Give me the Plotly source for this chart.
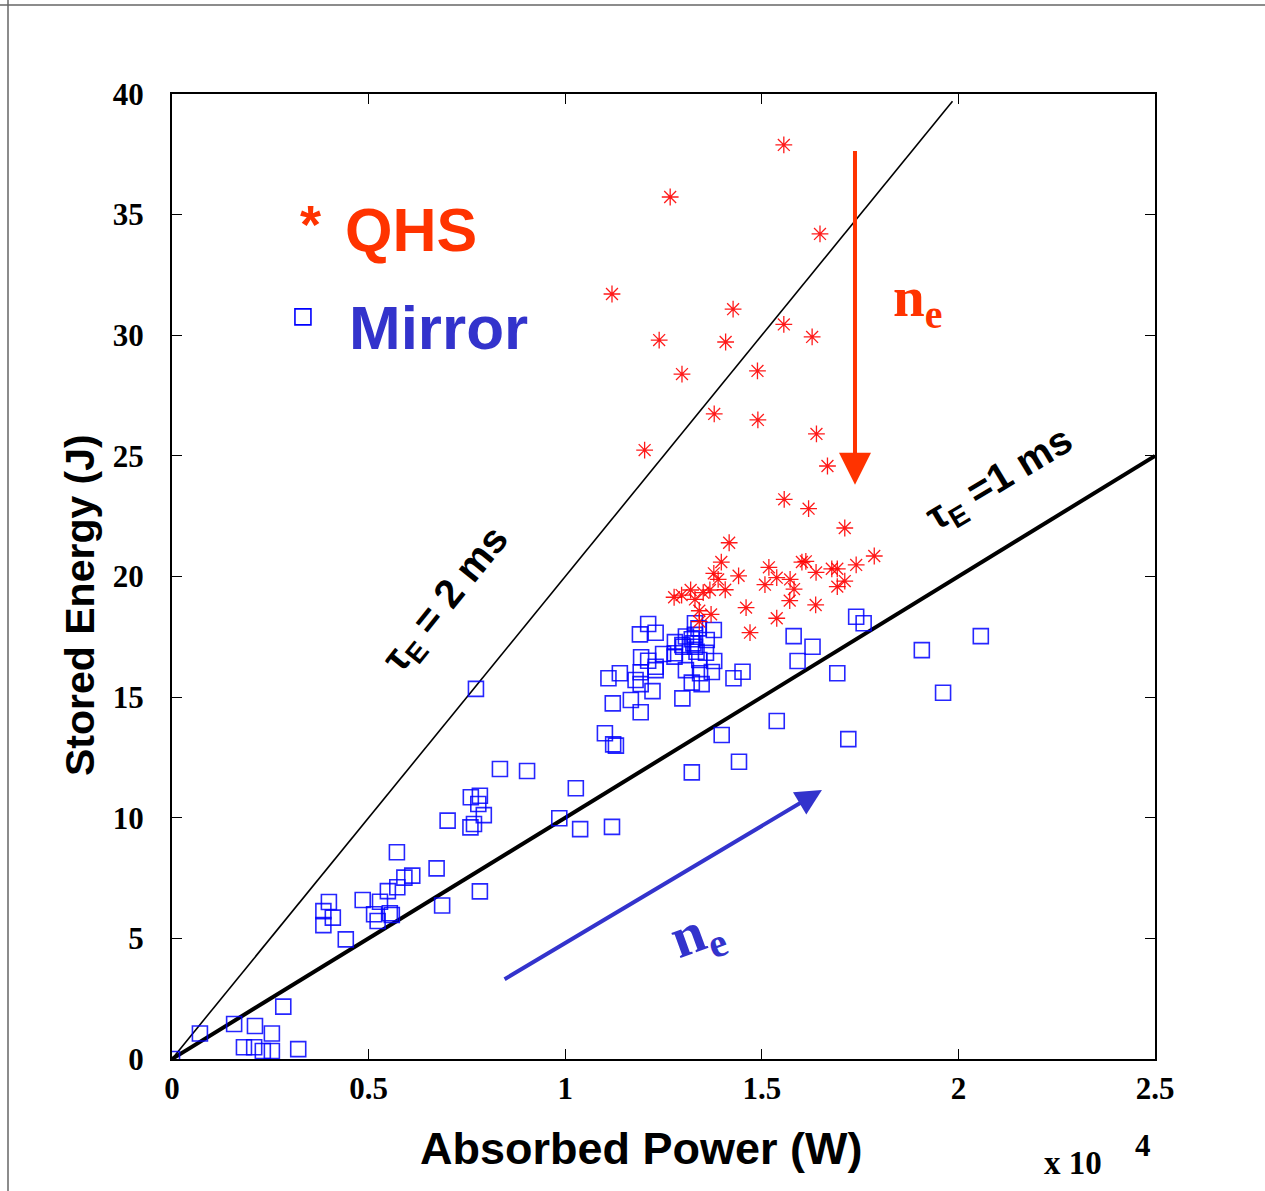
import plotly.graph_objects as go

# ---------------- data (power in units of 1e4 W, energy in J) ----------------
qhs_power = [1.556, 1.267, 1.648, 1.119, 1.427, 1.239, 1.556, 1.628, 1.408, 1.297,
             1.489, 1.379, 1.490, 1.639, 1.202, 1.667, 1.557, 1.619, 1.711, 1.417,
             1.786, 1.397, 1.602, 1.612, 1.740, 1.518, 1.678, 1.692, 1.378, 1.441,
             1.638, 1.389, 1.538, 1.572, 1.711, 1.508, 1.692, 1.582, 1.407, 1.368,
             1.351, 1.319, 1.330, 1.296, 1.277, 1.571, 1.637, 1.460, 1.341, 1.371,
             1.538, 1.341, 1.470]
qhs_energy = [37.89, 35.73, 34.20, 31.71, 31.08, 29.80, 30.45, 29.93, 29.72, 28.39,
              28.52, 26.74, 26.49, 25.91, 25.24, 24.58, 23.20, 22.81, 22.01, 21.40,
              20.85, 20.60, 20.60, 20.63, 20.48, 20.38, 20.32, 20.32, 20.13, 20.03,
              20.17, 19.88, 19.95, 19.88, 19.81, 19.66, 19.58, 19.48, 19.45, 19.44,
              19.33, 19.44, 19.05, 19.23, 19.14, 19.00, 18.82, 18.71, 18.58, 18.43,
              18.27, 18.13, 17.67]

mirror_power = [0.000, 0.071, 0.158, 0.211, 0.254, 0.283, 0.183, 0.209, 0.231, 0.254,
                0.321, 0.442, 0.385, 0.385, 0.409, 0.399, 0.485, 0.514, 0.523, 0.529,
                0.549, 0.554, 0.559, 0.573, 0.591, 0.611, 0.572, 0.673, 0.687, 0.701,
                0.760, 0.783, 0.779, 0.793, 0.768, 0.759, 0.783, 0.985, 0.834, 0.903,
                0.773, 1.027, 1.038, 1.119, 1.101, 1.122, 1.129, 1.121, 1.110, 1.139,
                1.167, 1.192, 1.179, 1.192, 1.192, 1.193, 1.190, 1.211, 1.230, 1.211,
                1.230, 1.222, 1.230, 1.249, 1.279, 1.278, 1.298, 1.298, 1.307, 1.322,
                1.322, 1.322, 1.330, 1.330, 1.330, 1.334, 1.341, 1.347, 1.360, 1.358,
                1.373, 1.379, 1.378, 1.339, 1.307, 1.326, 1.279, 1.300, 1.343, 1.398,
                1.428, 1.442, 1.451, 1.740, 1.759, 1.581, 1.629, 1.591, 1.692, 2.057,
                1.907, 1.961, 1.538, 1.720]
mirror_energy = [0.00, 1.06, 1.45, 1.37, 1.06, 2.17, 0.49, 0.49, 0.33, 0.33,
                 0.41, 4.96, 5.55, 6.13, 5.86, 6.51, 6.59, 6.00, 5.72, 6.52,
                 6.96, 6.04, 5.97, 7.12, 7.52, 7.60, 8.57, 7.90, 6.36, 9.88,
                 10.85, 10.91, 10.57, 10.11, 9.74, 9.60, 6.95, 9.98, 12.02, 11.94,
                 15.34, 11.22, 9.53, 9.62, 13.50, 13.04, 12.99, 14.74, 15.78, 15.99,
                 14.88, 14.37, 15.71, 15.54, 16.03, 16.65, 17.60, 18.03, 17.67, 16.51,
                 16.26, 15.25, 16.12, 16.79, 17.28, 16.68, 17.16, 14.95, 16.12, 15.60,
                 11.88, 17.40, 18.06, 17.58, 17.09, 16.88, 16.54, 15.54, 17.37, 16.84,
                 16.04, 16.50, 17.78, 17.85, 17.51, 17.23, 16.82, 17.09, 15.99, 13.43,
                 15.78, 12.32, 16.05, 18.33, 18.06, 17.53, 17.09, 16.50, 15.99, 17.53,
                 16.95, 15.18, 14.01, 13.26]

# confinement-time reference lines: W = P * tau
tau1_x = [0.0, 2.5]
tau1_y = [0.0, 25.0]
tau2_x = [0.0, 1.985]
tau2_y = [0.0, 39.7]

x_ticks = [0, 0.5, 1, 1.5, 2, 2.5]
x_ticklabels = ["0", "0.5", "1", "1.5", "2", "2.5"]
y_ticks = [0, 5, 10, 15, 20, 25, 30, 35, 40]
y_ticklabels = ["0", "5", "10", "15", "20", "25", "30", "35", "40"]

# legend key position (data coordinates)
legend_sq_x = [0.333]
legend_sq_y = [30.76]

RED = "#ff3300"
BLUE = "#3333cc"
SANS = "Arial, Liberation Sans"
SERIF = "Times New Roman, Liberation Serif"

fig = go.Figure()

fig.add_trace(go.Scatter(x=tau2_x, y=tau2_y, mode="lines",
                         line=dict(color="black", width=1.6), showlegend=False))
fig.add_trace(go.Scatter(x=tau1_x, y=tau1_y, mode="lines",
                         line=dict(color="black", width=4), showlegend=False))

fig.add_trace(go.Scatter(x=mirror_power, y=mirror_energy, mode="markers",
                         marker=dict(symbol="square-open", size=15,
                                     color="rgba(0,0,255,0.85)",
                                     line=dict(width=1.6, color="rgba(0,0,255,0.85)")),
                         showlegend=False))
fig.add_trace(go.Scatter(x=qhs_power, y=qhs_energy, mode="markers",
                         marker=dict(symbol="asterisk-open", size=14,
                                     color="rgba(255,0,0,0.9)",
                                     line=dict(width=1.3, color="rgba(255,0,0,0.9)")),
                         showlegend=False))

# legend key square
fig.add_trace(go.Scatter(x=legend_sq_x, y=legend_sq_y, mode="markers",
                         marker=dict(symbol="square-open", size=16, color="#0000ff",
                                     line=dict(width=1.6, color="#0000ff")),
                         showlegend=False))


def txt(x, y, text, size, color="black", family=SANS, ref="x", angle=0):
    return dict(x=x, y=y, xref="x" if ref == "x" else "paper",
                yref="y" if ref == "x" else "paper", showarrow=False, text=text,
                textangle=angle, xanchor="center", yanchor="middle",
                font=dict(family=family, size=size, color=color, weight="bold"))


annos = []
# arrows
annos.append(dict(x=1.737, y=23.8, ax=1.737, ay=37.7, xref="x", yref="y",
                  axref="x", ayref="y", showarrow=True, arrowhead=2,
                  arrowsize=1.6, arrowwidth=4, arrowcolor=RED, text=""))
annos.append(dict(x=1.653, y=11.15, ax=0.842, ay=3.27, xref="x", yref="y",
                  axref="x", ayref="y", showarrow=True, arrowhead=2,
                  arrowsize=1.3, arrowwidth=4, arrowcolor=BLUE, text=""))
# legend texts
annos.append(txt(0.351, 34.6, "*", 54, RED))
annos.append(txt(0.608, 34.36, "QHS", 61, RED))
annos.append(txt(0.679, 30.34, "Mirror", 62, BLUE))
# n_e labels
annos.append(txt(1.896, 31.4, "n<sub>e</sub>", 57, RED, SERIF))
annos.append(txt(1.335, 5.14, "n<sub>e</sub>", 58, BLUE, SERIF, angle=-20))
# tau labels
annos.append(txt(0.699, 19.03, "τ<sub>E</sub> = 2 ms", 40, angle=-51))
annos.append(txt(2.106, 24.0, "τ<sub>E</sub> =1 ms", 40, angle=-31))
# axis titles
annos.append(txt((641 - 172) / 983, (1059 - 1148) / 965, "Absorbed Power (W)", 45, ref="paper"))
annos.append(txt((80 - 172) / 983, (1059 - 605) / 965, "Stored Energy (J)", 41, ref="paper", angle=-90))
# exponent label
annos.append(txt((1073 - 172) / 983, (1059 - 1163) / 965, "x 10", 33, family=SERIF, ref="paper"))
annos.append(txt((1143 - 172) / 983, (1059 - 1145) / 965, "4", 31, family=SERIF, ref="paper"))

shapes = [
    dict(type="line", xref="paper", yref="paper", x0=-0.2, x1=1.2,
         y0=(1059 - 5) / 965, y1=(1059 - 5) / 965, line=dict(color="#666666", width=1.5)),
    dict(type="line", xref="paper", yref="paper", x0=(8 - 172) / 983, x1=(8 - 172) / 983,
         y0=-0.2, y1=1.2, line=dict(color="#666666", width=1.5)),
]

tickfont = dict(family=SERIF, size=31, color="black", weight="bold")

fig.update_layout(
    width=1265, height=1191,
    margin=dict(l=172, r=110, t=94, b=132),
    paper_bgcolor="white", plot_bgcolor="white",
    showlegend=False,
    annotations=annos, shapes=shapes,
    xaxis=dict(range=[0, 2.5], tickvals=x_ticks, ticktext=x_ticklabels,
               ticks="inside", ticklen=10, tickwidth=1, tickcolor="black",
               showline=True, linecolor="black", linewidth=2, mirror="ticks",
               showgrid=False, zeroline=False, tickfont=tickfont,
               ticklabelstandoff=1),
    yaxis=dict(range=[0, 40], tickvals=y_ticks, ticktext=y_ticklabels,
               ticks="inside", ticklen=10, tickwidth=1, tickcolor="black",
               showline=True, linecolor="black", linewidth=2, mirror="ticks",
               showgrid=False, zeroline=False, tickfont=tickfont,
               ticklabelstandoff=20),
)

fig.write_html("out.html")
